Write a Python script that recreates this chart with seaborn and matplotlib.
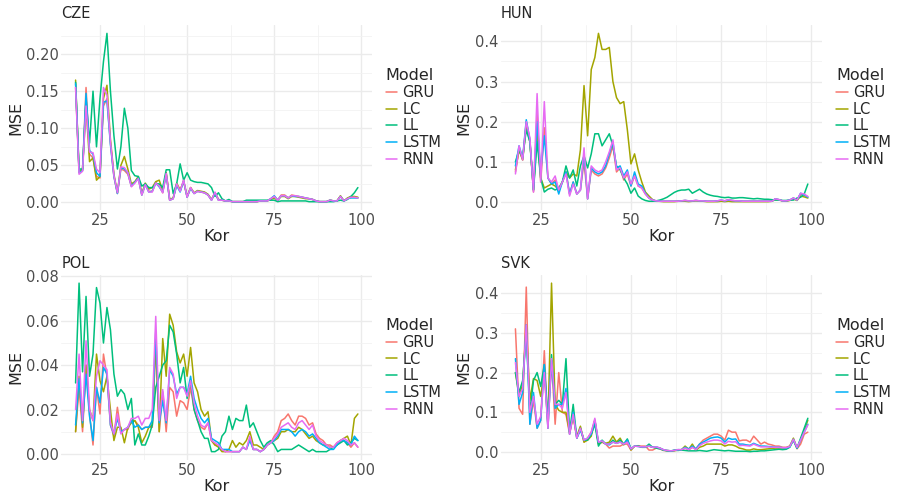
#!/usr/bin/env python3
"""MSE by age for five models, one panel per country."""

import matplotlib
matplotlib.use("Agg")
import matplotlib.pyplot as plt
import numpy as np
import pandas as pd
import seaborn as sns
from matplotlib.ticker import FormatStrFormatter, MultipleLocator

AGES = list(range(18, 100))
MODELS = ["GRU", "LC", "LL", "LSTM", "RNN"]
COLORS = ["#F8766D", "#A3A500", "#00BF7D", "#00B0F6", "#E76BF3"]

# CZE
CZE_GRU = [.155, .040, .043, .155, .065, .060, .035, .033, .130, .140,
           .080, .035, .012, .045, .043, .038, .022, .027, .033, .010,
           .025, .015, .015, .027, .022, .013, .040, .003, .005, .024,
           .015, .030, .007, .020, .012, .015, .014, .013, .010, .003,
           .013, .003, .003, .002, .002, .001, .001, .001, .001, .001,
           .001, .001, .001, .002, .002, .002, .005, .008, .003, .010,
           .010, .006, .010, .009, .008, .007, .006, .005, .004, .002,
           .001, .001, .001, .003, .002, .002, .008, .002, .005, .007,
           .007, .006]
CZE_LC = [.165, .042, .045, .130, .055, .060, .030, .035, .140, .158,
          .085, .038, .013, .050, .062, .045, .025, .028, .035, .012,
          .026, .018, .020, .028, .030, .016, .040, .004, .006, .026,
          .017, .028, .008, .020, .013, .016, .015, .014, .011, .004,
          .013, .004, .003, .002, .002, .001, .001, .001, .001, .001,
          .001, .001, .001, .002, .002, .002, .004, .006, .003, .008,
          .008, .005, .008, .008, .007, .006, .005, .005, .004, .002,
          .001, .001, .001, .003, .002, .002, .009, .002, .006, .008,
          .008, .007]
CZE_LL = [.162, .045, .045, .140, .080, .150, .075, .140, .190, .228,
          .150, .090, .045, .075, .127, .100, .043, .036, .035, .022,
          .025, .020, .020, .025, .025, .020, .044, .044, .012, .025,
          .052, .030, .040, .030, .028, .027, .027, .026, .025, .020,
          .008, .013, .005, .002, .004, .001, .001, .001, .001, .003,
          .003, .003, .003, .003, .003, .003, .003, .003, .001, .002,
          .002, .002, .002, .002, .002, .002, .002, .001, .001, .001,
          .001, .001, .001, .001, .001, .002, .003, .002, .004, .008,
          .013, .020]
CZE_LSTM = [.160, .040, .043, .147, .070, .065, .040, .035, .135, .137,
            .078, .035, .012, .047, .045, .040, .022, .027, .033, .010,
            .024, .014, .015, .026, .021, .014, .038, .003, .005, .023,
            .014, .029, .007, .019, .012, .015, .014, .013, .010, .003,
            .013, .003, .003, .002, .002, .001, .001, .001, .001, .001,
            .001, .001, .001, .002, .002, .002, .005, .009, .003, .009,
            .009, .006, .009, .008, .008, .007, .006, .005, .004, .002,
            .001, .001, .001, .003, .002, .002, .008, .002, .005, .006,
            .006, .006]
CZE_RNN = [.155, .038, .042, .130, .068, .067, .045, .040, .155, .145,
           .082, .036, .013, .048, .047, .040, .021, .026, .032, .010,
           .024, .014, .014, .026, .022, .013, .039, .003, .005, .025,
           .015, .030, .007, .020, .012, .015, .014, .013, .010, .003,
           .014, .003, .003, .002, .002, .001, .001, .001, .001, .001,
           .001, .001, .001, .002, .002, .002, .005, .008, .003, .009,
           .009, .006, .009, .009, .008, .007, .006, .005, .004, .002,
           .001, .001, .001, .003, .002, .002, .008, .002, .005, .007,
           .007, .006]

# HUN
HUN_GRU = [.075, .130, .105, .200, .155, .025, .220, .050, .185, .060,
           .045, .055, .030, .050, .075, .020, .050, .020, .030, .100,
           .008, .080, .070, .065, .070, .085, .110, .140, .075, .085,
           .055, .070, .040, .065, .040, .035, .020, .010, .005, .003,
           .002, .002, .002, .002, .002, .002, .003, .004, .003, .003,
           .004, .003, .003, .002, .002, .002, .003, .004, .003, .006,
           .004, .003, .003, .002, .002, .002, .002, .002, .002, .002,
           .002, .002, .008, .006, .003, .003, .005, .010, .005, .020,
           .018, .013]
HUN_LC = [.080, .130, .105, .190, .150, .030, .170, .060, .035, .040,
          .045, .040, .030, .050, .075, .060, .070, .065, .130, .290,
          .165, .330, .360, .420, .380, .380, .385, .300, .260, .245,
          .250, .180, .095, .120, .080, .050, .025, .015, .006, .002,
          .002, .001, .001, .001, .001, .002, .002, .002, .001, .002,
          .003, .002, .002, .001, .001, .001, .001, .002, .001, .002,
          .001, .001, .001, .001, .001, .001, .001, .001, .001, .001,
          .001, .002, .006, .005, .003, .002, .004, .008, .004, .015,
          .013, .010]
HUN_LL = [.100, .130, .110, .180, .150, .030, .150, .060, .025, .032,
          .035, .030, .035, .050, .090, .060, .080, .040, .090, .115,
          .085, .120, .170, .170, .140, .155, .170, .140, .090, .080,
          .060, .045, .022, .035, .015, .008, .004, .002, .002, .003,
          .005, .008, .012, .018, .024, .028, .030, .030, .032, .022,
          .027, .032, .025, .020, .017, .015, .014, .012, .011, .012,
          .010, .010, .011, .011, .010, .009, .008, .009, .008, .007,
          .007, .006, .005, .005, .004, .004, .005, .005, .010, .012,
          .020, .045]
HUN_LSTM = [.090, .140, .110, .205, .155, .030, .200, .075, .165, .060,
            .045, .050, .020, .050, .075, .020, .050, .020, .030, .120,
            .008, .085, .075, .070, .075, .090, .120, .150, .085, .090,
            .065, .080, .040, .075, .045, .040, .022, .010, .005, .003,
            .002, .002, .002, .002, .002, .002, .003, .004, .003, .003,
            .004, .003, .003, .002, .002, .002, .003, .005, .003, .005,
            .004, .003, .003, .002, .002, .002, .002, .002, .002, .002,
            .002, .002, .008, .006, .003, .003, .005, .010, .005, .022,
            .018, .012]
HUN_RNN = [.070, .140, .105, .200, .160, .025, .270, .050, .250, .060,
           .050, .065, .030, .050, .070, .015, .045, .020, .030, .135,
           .008, .090, .080, .075, .080, .100, .125, .155, .080, .085,
           .060, .075, .045, .065, .040, .035, .020, .010, .005, .003,
           .002, .002, .002, .002, .002, .002, .003, .004, .003, .003,
           .004, .003, .003, .002, .002, .002, .003, .005, .003, .006,
           .004, .003, .003, .002, .002, .002, .002, .002, .002, .002,
           .002, .002, .008, .006, .003, .003, .005, .010, .005, .022,
           .020, .014]

# POL
POL_GRU = [.010, .030, .010, .040, .018, .004, .030, .018, .045, .035,
           .013, .008, .021, .010, .011, .011, .015, .015, .013, .011,
           .012, .012, .012, .050, .010, .028, .010, .030, .028, .017,
           .024, .023, .020, .030, .020, .015, .012, .011, .014, .006,
           .004, .004, .002, .001, .001, .001, .001, .001, .003, .002,
           .007, .002, .002, .001, .002, .004, .005, .008, .010, .015,
           .016, .018, .015, .013, .017, .017, .016, .013, .014, .009,
           .007, .006, .004, .004, .003, .005, .006, .006, .005, .003,
           .005, .003]
POL_LC = [.010, .035, .012, .040, .020, .015, .045, .033, .028, .035,
          .020, .006, .012, .012, .005, .012, .014, .015, .012, .005,
          .008, .012, .013, .050, .010, .052, .035, .063, .058, .046,
          .041, .045, .035, .048, .032, .028, .020, .017, .019, .006,
          .004, .003, .001, .001, .002, .006, .003, .005, .004, .006,
          .010, .004, .004, .003, .002, .004, .005, .006, .007, .010,
          .010, .011, .010, .010, .012, .011, .009, .007, .008, .006,
          .005, .004, .004, .003, .003, .004, .006, .007, .008, .004,
          .016, .018]
POL_LL = [.032, .077, .037, .071, .035, .045, .075, .068, .050, .066,
          .056, .036, .026, .029, .027, .020, .025, .004, .009, .004,
          .004, .008, .013, .030, .035, .040, .042, .058, .055, .045,
          .032, .039, .025, .033, .020, .015, .010, .007, .007, .001,
          .001, .002, .008, .010, .017, .011, .016, .015, .015, .022,
          .012, .014, .010, .006, .003, .005, .006, .004, .001, .002,
          .002, .002, .002, .003, .004, .003, .002, .001, .002, .001,
          .001, .001, .001, .002, .003, .004, .005, .006, .004, .005,
          .007, .006]
POL_LSTM = [.013, .034, .014, .036, .017, .006, .030, .023, .039, .036,
            .013, .009, .016, .010, .011, .012, .015, .012, .013, .011,
            .012, .012, .015, .055, .014, .024, .014, .038, .035, .027,
            .030, .030, .027, .035, .025, .020, .016, .014, .016, .007,
            .006, .005, .002, .002, .002, .001, .001, .001, .003, .002,
            .006, .002, .002, .001, .002, .004, .005, .006, .008, .011,
            .011, .011, .010, .008, .010, .011, .010, .008, .009, .007,
            .005, .004, .003, .002, .002, .004, .006, .006, .005, .004,
            .008, .006]
POL_RNN = [.020, .045, .015, .051, .020, .015, .035, .042, .040, .038,
           .014, .009, .018, .009, .011, .012, .016, .016, .017, .013,
           .016, .016, .020, .062, .015, .029, .015, .039, .036, .025,
           .030, .030, .026, .033, .023, .017, .013, .012, .014, .006,
           .005, .004, .002, .001, .001, .001, .001, .001, .003, .002,
           .008, .002, .002, .001, .002, .004, .005, .007, .009, .012,
           .013, .014, .012, .011, .014, .015, .013, .011, .013, .008,
           .006, .005, .004, .003, .003, .005, .006, .007, .006, .004,
           .005, .003]

# SVK
SVK_GRU = [.310, .110, .095, .415, .070, .130, .060, .080, .255, .060,
           .230, .070, .200, .100, .095, .045, .090, .035, .060, .025,
           .035, .050, .080, .020, .025, .020, .010, .015, .015, .015,
           .020, .020, .005, .015, .015, .015, .015, .005, .005, .010,
           .008, .004, .003, .002, .004, .006, .005, .010, .005, .012,
           .008, .020, .030, .035, .040, .045, .045, .040, .030, .055,
           .050, .050, .028, .030, .030, .025, .040, .030, .020, .025,
           .020, .018, .015, .015, .012, .012, .015, .030, .008, .020,
           .045, .050]
SVK_LC = [.200, .140, .170, .320, .130, .185, .180, .140, .200, .070,
          .425, .120, .105, .100, .100, .050, .090, .040, .065, .025,
          .030, .040, .080, .020, .025, .022, .025, .040, .025, .035,
          .018, .030, .005, .015, .016, .012, .012, .015, .012, .012,
          .010, .005, .004, .003, .003, .005, .006, .015, .007, .020,
          .005, .012, .015, .020, .020, .020, .020, .020, .015, .018,
          .018, .015, .010, .008, .005, .005, .008, .006, .006, .007,
          .008, .009, .010, .010, .010, .010, .015, .035, .010, .030,
          .055, .080]
SVK_LL = [.200, .150, .180, .300, .100, .180, .200, .165, .220, .075,
          .245, .120, .130, .120, .235, .050, .120, .035, .060, .030,
          .030, .045, .070, .015, .030, .020, .020, .030, .022, .030,
          .020, .033, .008, .015, .015, .012, .012, .020, .012, .010,
          .008, .005, .003, .002, .005, .004, .005, .004, .003, .003,
          .003, .004, .003, .002, .004, .006, .005, .004, .003, .004,
          .003, .002, .002, .002, .002, .001, .002, .002, .003, .003,
          .004, .005, .006, .007, .006, .007, .012, .030, .010, .035,
          .060, .085]
SVK_LSTM = [.235, .120, .150, .320, .070, .150, .060, .080, .220, .060,
            .230, .110, .120, .120, .160, .045, .100, .035, .055, .030,
            .035, .045, .080, .025, .028, .020, .018, .025, .022, .025,
            .020, .030, .008, .015, .014, .013, .013, .015, .012, .013,
            .010, .006, .004, .003, .004, .006, .006, .012, .008, .015,
            .008, .020, .025, .030, .035, .037, .038, .035, .025, .035,
            .032, .033, .020, .020, .018, .017, .022, .018, .015, .015,
            .014, .013, .012, .012, .011, .010, .013, .032, .010, .030,
            .050, .070]
SVK_RNN = [.225, .140, .160, .320, .100, .140, .070, .090, .200, .060,
           .235, .120, .120, .110, .150, .045, .095, .035, .060, .030,
           .035, .050, .085, .025, .028, .020, .020, .025, .022, .025,
           .020, .025, .008, .015, .014, .013, .013, .015, .012, .013,
           .010, .006, .004, .003, .004, .006, .006, .010, .006, .012,
           .006, .016, .022, .025, .028, .030, .030, .028, .020, .027,
           .025, .026, .016, .017, .016, .015, .020, .016, .013, .013,
           .013, .012, .012, .012, .011, .011, .014, .032, .012, .030,
           .050, .068]

COUNTRIES = {
    "CZE": [CZE_GRU, CZE_LC, CZE_LL, CZE_LSTM, CZE_RNN],
    "HUN": [HUN_GRU, HUN_LC, HUN_LL, HUN_LSTM, HUN_RNN],
    "POL": [POL_GRU, POL_LC, POL_LL, POL_LSTM, POL_RNN],
    "SVK": [SVK_GRU, SVK_LC, SVK_LL, SVK_LSTM, SVK_RNN],
}

# axes boxes in figure fractions, plus y tick step / format
PANELS = {
    "CZE": ([0.068, 0.579, 0.3435, 0.371], 0.05, "%.2f"),
    "HUN": ([0.554, 0.579, 0.3558, 0.371], 0.1, "%.1f"),
    "POL": ([0.068, 0.078, 0.3435, 0.3715], 0.02, "%.2f"),
    "SVK": ([0.554, 0.078, 0.3558, 0.3715], 0.1, "%.1f"),
}


def to_long(series):
    frames = []
    for model, values in zip(MODELS, series):
        frames.append(pd.DataFrame({"Kor": AGES, "MSE": values, "Model": model}))
    return pd.concat(frames, ignore_index=True)


def draw_panel(fig, name, series):
    box, ystep, yfmt = PANELS[name]
    ax = fig.add_axes(box)
    df = to_long(series)
    sns.lineplot(data=df, x="Kor", y="MSE", hue="Model", hue_order=MODELS,
                 palette=dict(zip(MODELS, COLORS)), linewidth=1.1,
                 errorbar=None, ax=ax)
    ax.margins(x=0.05, y=0.05)

    ax.xaxis.set_major_locator(MultipleLocator(25))
    ax.xaxis.set_minor_locator(MultipleLocator(12.5))
    ax.yaxis.set_major_locator(MultipleLocator(ystep))
    ax.yaxis.set_minor_locator(MultipleLocator(ystep / 2))
    ax.yaxis.set_major_formatter(FormatStrFormatter(yfmt))
    ax.grid(which="major", color="#EBEBEB", linewidth=1.0)
    ax.grid(which="minor", color="#F2F2F2", linewidth=0.6)
    ax.set_axisbelow(True)
    for spine in ax.spines.values():
        spine.set_visible(False)
    ax.tick_params(which="both", length=0, labelsize=10.5, colors="#4D4D4D", pad=2)

    ax.set_xlabel("Kor", fontsize=11.5, labelpad=1)
    ax.set_ylabel("MSE", fontsize=11.5, labelpad=2)
    ax.set_title(name, loc="left", fontsize=10.5, pad=5)

    sns.move_legend(ax, "center left", bbox_to_anchor=(1.025, 0.5), frameon=False,
                    title="Model", fontsize=10.5, title_fontsize=11.5,
                    handlelength=0.8, handletextpad=0.35, labelspacing=0.12,
                    borderaxespad=0, alignment="left")
    return ax


def main() -> None:
    sns.set_style("white")
    plt.rcParams["font.family"] = ["DejaVu Sans"]
    fig = plt.figure(figsize=(9.04, 4.99), dpi=100)
    for name, series in COUNTRIES.items():
        draw_panel(fig, name, series)
    fig.savefig("out.png", dpi=100, facecolor="white")
    plt.close(fig)


if __name__ == "__main__":
    main()
